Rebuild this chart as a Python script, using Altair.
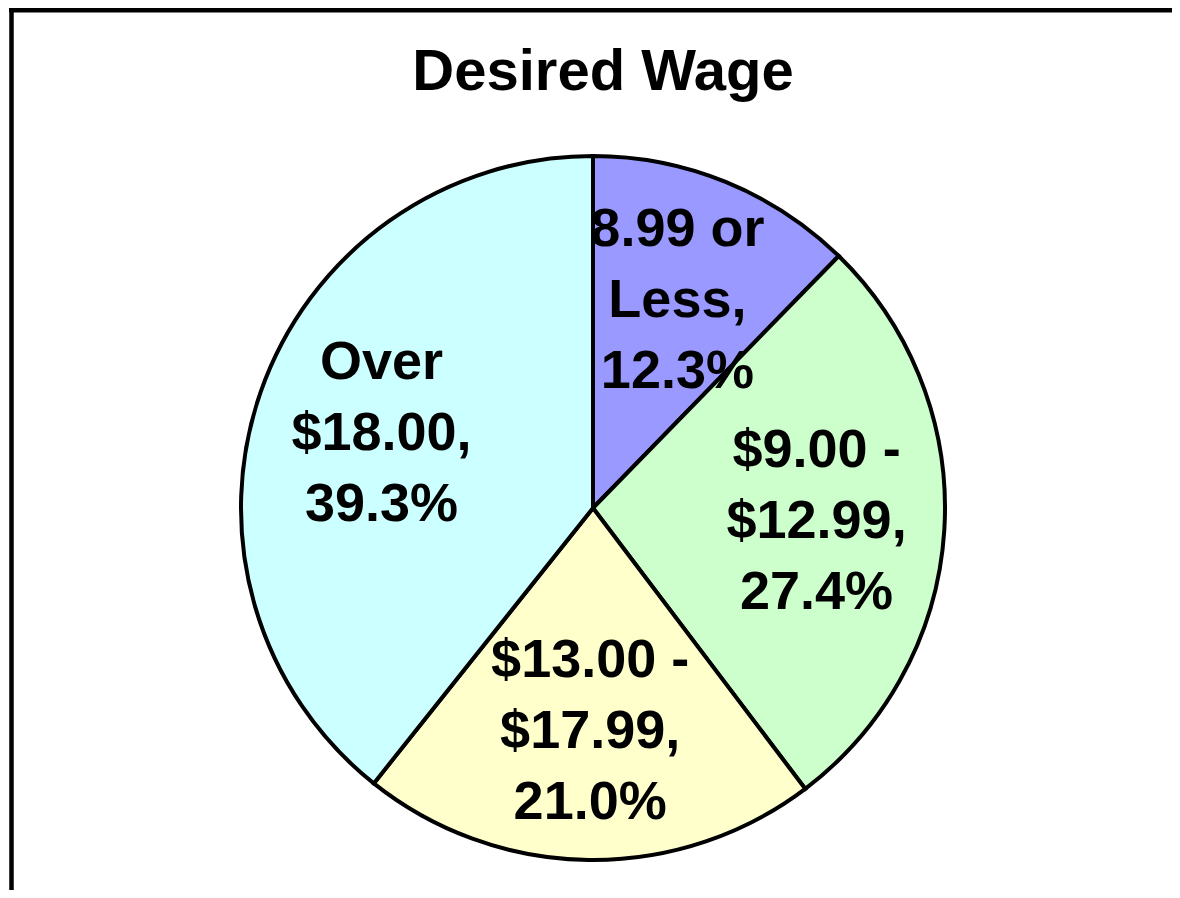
import altair as alt
import pandas as pd

categories = ["8.99 or Less", "$9.00 - $12.99", "$13.00 - $17.99", "Over $18.00"]
percents = [12.3, 27.4, 21.0, 39.3]
colors = ["#9999FF", "#CCFFCC", "#FFFFCC", "#CCFFFF"]


def make_label(cat, pct):
    head, tail = cat.rsplit(" ", 1)
    return f"{head}\n{tail},\n{pct:.1f}%"


df = pd.DataFrame({
    "category": categories,
    "percent": percents,
    "order": list(range(len(categories))),
    "label": [make_label(c, p) for c, p in zip(categories, percents)],
})

cx, cy, R = 585, 496, 352
line_h = 71

base = alt.Chart(df).encode(
    theta=alt.Theta("percent:Q", stack=True),
    order=alt.Order("order:O"),
)

pie = base.mark_arc(stroke="black", strokeWidth=4, outerRadius=R).encode(
    color=alt.Color("category:N", scale=alt.Scale(domain=categories, range=colors), legend=None),
    x=alt.value(cx),
    y=alt.value(cy),
)

labels = base.mark_text(
    radius=224,
    font="Liberation Sans",
    fontWeight="bold",
    fontSize=54,
    lineHeight=line_h,
    lineBreak="\n",
    align="center",
    baseline="middle",
    dy=-line_h,
    color="black",
).encode(
    text="label:N",
    x=alt.value(cx),
    y=alt.value(cy),
)

frame_df = pd.DataFrame({"k": [0]})
top_rule = alt.Chart(frame_df).mark_rule(color="black", strokeWidth=4.5).encode(
    x=alt.value(1), x2=alt.value(1200), y=alt.value(-1.8)
)
left_rule = alt.Chart(frame_df).mark_rule(color="black", strokeWidth=4.5).encode(
    x=alt.value(3.5), y=alt.value(-4), y2=alt.value(900)
)

chart = alt.layer(pie, labels, top_rule, left_rule).properties(
    width=1164,
    height=878,
    padding={"top": 4, "left": 0, "right": 0, "bottom": 0},
    autosize="none",
    title=alt.TitleParams(
        "Desired Wage",
        font="Liberation Sans",
        fontWeight="bold",
        fontSize=58,
        color="black",
        anchor="middle",
        dx=13,
        dy=96,
        offset=0,
    ),
).configure_view(strokeWidth=0)

chart.save("out.html", embed_options={"renderer": "svg", "actions": False})
